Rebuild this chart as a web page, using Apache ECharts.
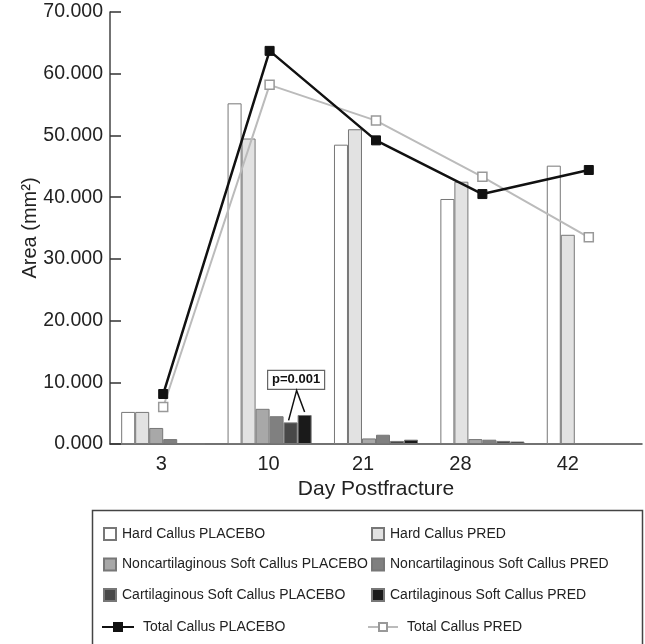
<!DOCTYPE html>
<html>
<head>
<meta charset="utf-8">
<script src="https://cdn.jsdelivr.net/npm/echarts@6/dist/echarts.min.js"></script>
<style>html,body{margin:0;padding:0;background:#fff}#c{width:645px;height:644px}</style>
</head>
<body>
<div id="c"></div>
<script>
const days = ['3', '10', '21', '28', '42'];
const labelShift = [-2, -1, -13, -22, -21];
const yTicks = [0, 10, 20, 30, 40, 50, 60, 70];
const hardPlacebo = [5.2, 55.2, 48.5, 39.7, 45.1];
const hardPred = [5.2, 49.5, 51.0, 42.5, 33.9];
const nonCartPlacebo = [2.6, 5.7, 0.9, 0.8, 0.1];
const nonCartPred = [0.8, 4.5, 1.5, 0.7, 0.1];
const cartPlacebo = [0, 3.5, 0.5, 0.5, 0.1];
const cartPred = [0, 4.7, 0.7, 0.4, 0.1];
const totalPlacebo = [8.1, 63.7, 49.2, 40.5, 44.4];
const totalPred = [6.0, 58.2, 52.4, 43.3, 33.5];
const pText = 'p=0.001';

const FONT = 'Liberation Sans, Arial, sans-serif';
const chart = echarts.init(document.getElementById('c'));

function bar(name, data, color) {
  return {
    name, type: 'bar', data, barGap: '0%', barCategoryGap: '21%',
    itemStyle: { color, borderColor: '#777', borderWidth: 1 },
    z: 2
  };
}

const rich = {};
labelShift.forEach((s, i) => {
  rich['l' + i] = { fontSize: 20, color: '#222', fontFamily: FONT,
    padding: s < 0 ? [0, -2 * s, 0, 0] : [0, 0, 0, 2 * s] };
});

const legendText = { fontSize: 14, color: '#222', fontFamily: FONT, padding: [0, 0, 0, 1] };

chart.setOption({
  animation: false,
  backgroundColor: '#fff',
  grid: { left: 110, right: 3, top: 12, bottom: 200 },
  xAxis: {
    type: 'category', data: days,
    name: 'Day Postfracture', nameLocation: 'middle', nameGap: 35,
    nameTextStyle: { fontSize: 21, color: '#222', fontFamily: FONT },
    axisLine: { lineStyle: { color: '#444', width: 1.5 } },
    axisTick: { inside: true, length: 10, lineStyle: { color: '#222', width: 1.5 } },
    axisLabel: { margin: 10, formatter: (v, i) => '{l' + i + '|' + v + '}', rich }
  },
  yAxis: {
    type: 'value', min: 0, max: 70, interval: 10,
    name: 'Area (mm²)', nameLocation: 'middle', nameGap: 70, nameMoveOverlap: false,
    nameTextStyle: { fontSize: 20, color: '#222', fontFamily: FONT },
    axisLine: { show: true, lineStyle: { color: '#444', width: 1.5 } },
    axisTick: { show: true, inside: true, length: 11, lineStyle: { color: '#333', width: 1.5 } },
    splitLine: { show: false },
    axisLabel: { fontSize: 19.5, color: '#222', fontFamily: FONT, margin: 7,
      formatter: v => yTicks.includes(v) ? v.toFixed(3) : '' }
  },
  legend: [
    { orient: 'vertical', left: 98, top: 522, itemWidth: 12, itemHeight: 12, itemGap: 16.5,
      textStyle: legendText, icon: 'rect',
      data: ['Hard Callus PLACEBO', 'Noncartilaginous Soft Callus PLACEBO', 'Cartilaginous Soft Callus PLACEBO'] },
    { orient: 'vertical', left: 366, top: 522, itemWidth: 12, itemHeight: 12, itemGap: 16.5,
      textStyle: legendText, icon: 'rect',
      data: ['Hard Callus PRED', 'Noncartilaginous Soft Callus PRED', 'Cartilaginous Soft Callus PRED'] },
    { left: 96, top: 615, itemWidth: 32, itemHeight: 10, textStyle: Object.assign({}, legendText, { padding: [0, 0, 0, 4] }),
      data: ['Total Callus PLACEBO'] },
    { left: 362, top: 615, itemWidth: 30, itemHeight: 10, textStyle: Object.assign({}, legendText, { padding: [0, 0, 0, 4] }),
      data: ['Total Callus PRED'] }
  ],
  series: [
    bar('Hard Callus PLACEBO', hardPlacebo, '#ffffff'),
    bar('Hard Callus PRED', hardPred, '#e2e2e2'),
    bar('Noncartilaginous Soft Callus PLACEBO', nonCartPlacebo, '#a8a8a8'),
    bar('Noncartilaginous Soft Callus PRED', nonCartPred, '#808080'),
    bar('Cartilaginous Soft Callus PLACEBO', cartPlacebo, '#484848'),
    bar('Cartilaginous Soft Callus PRED', cartPred, '#1a1a1a'),
    { name: 'Total Callus PLACEBO', type: 'line', data: totalPlacebo, z: 5,
      symbol: 'rect', symbolSize: 9,
      lineStyle: { color: '#111', width: 2.5 },
      itemStyle: { color: '#111', borderColor: '#111', borderWidth: 1 } },
    { name: 'Total Callus PRED', type: 'line', data: totalPred, z: 4,
      symbol: 'rect', symbolSize: 9, showAllSymbol: true,
      lineStyle: { color: '#bbbbbb', width: 2 },
      itemStyle: { color: '#fff', borderColor: '#999', borderWidth: 1.5 } }
  ]
});

// Annotation tied to the day-10 cartilaginous bars
const x0 = chart.convertToPixel({ xAxisIndex: 0 }, 0);
const x1 = chart.convertToPixel({ xAxisIndex: 0 }, 1);
const band = x1 - x0;
const bw = band * 0.79 / 6;
const cx = x1;
const xCP = cx + 1.5 * bw, xCR = cx + 2.5 * bw;
const yCP = chart.convertToPixel({ yAxisIndex: 0 }, cartPlacebo[1]);
const yCR = chart.convertToPixel({ yAxisIndex: 0 }, cartPred[1]);
const apexX = (xCP + xCR) / 2 - 1, apexY = yCP - 32;
chart.setOption({
  graphic: [
    { type: 'rect', left: 90, top: 508, shape: { width: 550, height: 140 },
      style: { fill: 'none', stroke: '#444', lineWidth: 1.5 }, silent: true },
    { type: 'polyline', shape: { points: [[xCP - 2, yCP - 2], [apexX, apexY], [xCR, yCR - 3]] },
      style: { fill: 'none', stroke: '#111', lineWidth: 1.5 }, z: 10 },
    { type: 'group', z: 10, children: [
      { type: 'rect', shape: { x: apexX - 29, y: apexY - 20, width: 57, height: 19 },
        style: { fill: '#fff', stroke: '#666', lineWidth: 1.2 } },
      { type: 'text', x: apexX - 0.5, y: apexY - 10.5,
        style: { text: pText, fontSize: 13, fontWeight: 'bold', fill: '#111', fontFamily: FONT,
          align: 'center', verticalAlign: 'middle' } }
    ] }
  ]
});
</script>
</body>
</html>
